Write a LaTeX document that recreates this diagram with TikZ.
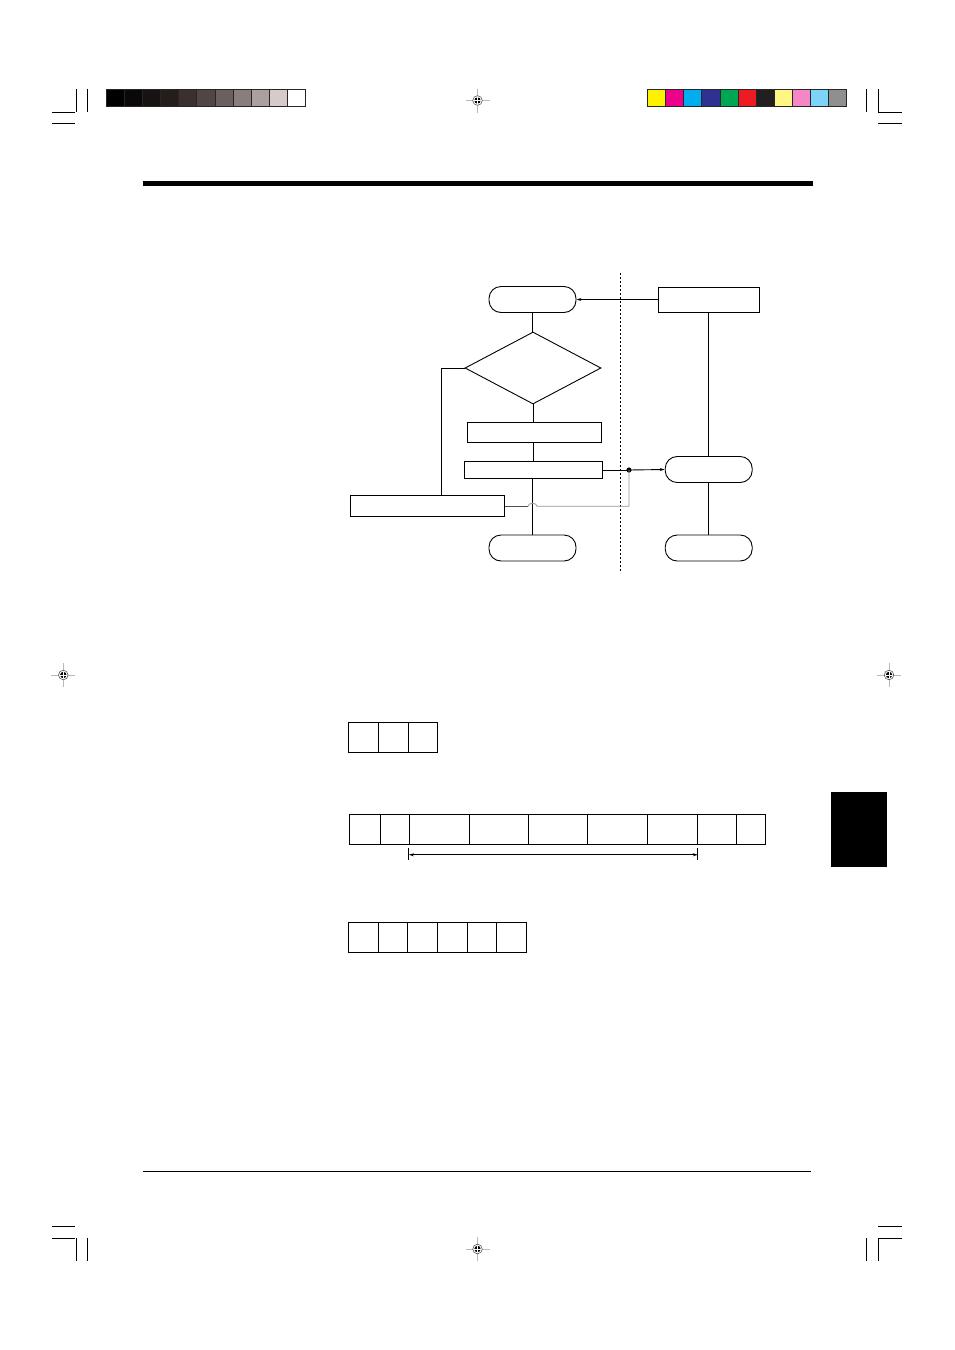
\documentclass[tikz,border=0pt]{standalone}
\usepackage{xcolor}
\usepackage{tikz}
\usetikzlibrary{shapes.geometric,arrows.meta}
\definecolor{hopgray}{RGB}{150,150,150}

\newcommand{\regmark}[1]{%
  \begin{scope}[shift={#1}]
    \draw[gray!55,line width=0.7pt] (-12,0) -- (12,0) (0,-12) -- (0,12);
    \draw[black!75,line width=0.5pt,fill=white] (0,0) circle (4.8pt);
    \fill (0,0) circle (3.2pt);
    \draw[white,line width=0.6pt] (-3.4,0) -- (3.4,0) (0,-3.4) -- (0,3.4);
  \end{scope}}

\begin{document}
\begin{tikzpicture}[x=1pt,y=-1pt,line width=0.9pt,
    >={Stealth[length=5pt,width=3pt]},
    term/.style={draw,rounded corners=12pt,minimum width=87pt,minimum height=26pt,inner sep=0pt},
    box/.style={draw,inner sep=0pt},
    decision/.style={draw,diamond,aspect=1.89,minimum width=136pt,minimum height=72pt,inner sep=0pt},
    cell/.style={draw,minimum height=30pt,inner sep=0pt},
    crop/.style={line width=0.9pt}]
  \fill[white] (0,0) rectangle (954,1350);
  \useasboundingbox (0,0) rectangle (954,1350);

  % crop marks
  \draw[crop] (52,112.3) -- (75,112.3) (52,123.7) -- (75,123.7)
              (76,89) -- (76,112.3) (87.3,89) -- (87.3,112.3);
  \draw[crop] (878.3,112.3) -- (901.7,112.3) (878.3,123.7) -- (901.7,123.7)
              (866.3,89) -- (866.3,112.3) (878.3,89) -- (878.3,112.3);
  \draw[crop] (52,1226) -- (75,1226) (52,1238.3) -- (75,1238.3)
              (76,1238.3) -- (76,1260.7) (87.3,1238.3) -- (87.3,1260.7);
  \draw[crop] (878.3,1226) -- (901.7,1226) (878.3,1238.3) -- (901.7,1238.3)
              (866.7,1238.3) -- (866.7,1260.7) (878.3,1238.3) -- (878.3,1260.7);

  % grey and colour bars
  \foreach \i/\r/\g/\b in {0/0/0/0,1/10/8/8,2/23/19/18,3/35/30/27,4/58/48/46,5/79/70/69,
      6/107/96/94,7/135/126/125,8/169/160/159,9/212/203/202,10/255/255/255}
    \draw[line width=0.6pt,draw=black!85,fill={rgb,255:red,\r;green,\g;blue,\b}]
      ({106+18.15*\i},89.3) rectangle ++(18.15,17);
  \foreach \i/\r/\g/\b in {0/255/242/0,1/236/0/140,2/0/174/239,3/46/49/146,4/0/166/81,5/237/28/36,
      6/35/31/32,7/255/246/133,8/245/136/196,9/125/212/248,10/143/143/143}
    \draw[line width=0.6pt,draw=black!85,fill={rgb,255:red,\r;green,\g;blue,\b}]
      ({647.3+18.13*\i},89.3) rectangle ++(18.13,17);

  % registration marks
  \regmark{(477.5,100.5)}
  \regmark{(477.5,1249)}
  \regmark{(63.3,675)}
  \regmark{(889,675)}

  % rules and tab
  \draw[line width=5pt] (143,183.5) -- (813,183.5);
  \draw[line width=0.8pt] (143,1171) -- (811,1171);
  \fill (831,792) rectangle (887,867);

  % flowchart
  \node[term] (start) at (532.5,299.5) {};
  \node[box,minimum width=101pt,minimum height=25pt] (irq) at (708.7,299.5) {};
  \node[decision] (check) at (533,368) {};
  \node[box,minimum width=134pt,minimum height=20pt] (proc1) at (534.5,432.5) {};
  \node[box,minimum width=138pt,minimum height=17pt] (proc2) at (533.5,470) {};
  \node[term] (recv) at (708.7,469.5) {};
  \node[term] (endr) at (708.7,548) {};
  \node[term] (endl) at (532.5,548) {};
  \node[box,minimum width=154pt,minimum height=21pt] (err) at (427.3,506.3) {};
  \coordinate (jn) at (629,470);
  \coordinate (hopL) at ([xshift=-4.5pt]endl.north |- err.east);

  \draw[dashed,dash pattern=on 2pt off 2pt] (620,273) -- (620,573);
  \draw[->] (irq.west) -- (start.east);
  \draw (start.south) -- (start.south |- check.north);
  \draw (check.south) -- (check.south |- proc1.north);
  \draw (check.south |- proc1.south) -- (check.south |- proc2.north);
  \draw (endl.north |- proc2.south) -- (endl.north);
  \draw (proc2.east) -- (jn);
  \draw[->] (jn) -- (recv.west);
  \fill (jn) circle (2.6pt);
  \draw (irq.south) -- (recv.north);
  \draw (recv.south) -- (endr.north);
  \draw (check.west) -| ([xshift=14pt]err.north);
  \draw[line width=0.8pt,black!70] (err.east) -- (hopL);
  \draw[line width=0.8pt,hopgray] (hopL) .. controls +(0,-4) and +(0,-4) .. ++(9,0) -| (jn);

  % frames
  \foreach \i/\xa/\xb in {1/348.3/378.3,2/378.3/408.3,3/408.3/437.3}
    \node[cell,minimum width={\xb-\xa}] (a\i) at ({(\xa+\xb)/2},737.3) {};
  \foreach \i/\xa/\xb in {1/349.3/380.3,2/380.3/409.3,3/409.3/469.3,4/469.3/528.3,5/528.3/587.3,
      6/587.3/647.3,7/647.3/697.3,8/697.3/736.3,9/736.3/765.3}
    \node[cell,minimum width={\xb-\xa}] (b\i) at ({(\xa+\xb)/2},829.3) {};
  \foreach \i/\xa/\xb in {1/348.3/378.3,2/378.3/407.7,3/407.7/437.3,4/437.3/467.3,5/467.3/496.3,6/496.3/526}
    \node[cell,minimum width={\xb-\xa}] (c\i) at ({(\xa+\xb)/2},937.3) {};

  \coordinate (dimL) at ([yshift=-3pt]b3.south west);
  \coordinate (dimR) at ([yshift=-3pt]b7.south east);
  \draw (dimL) -- ++(0,12.4);
  \draw (dimR) -- ++(0,12.4);
  \draw[<->] ([yshift=-10pt]b3.south west) -- ([yshift=-10pt]b7.south east);
\end{tikzpicture}
\end{document}
